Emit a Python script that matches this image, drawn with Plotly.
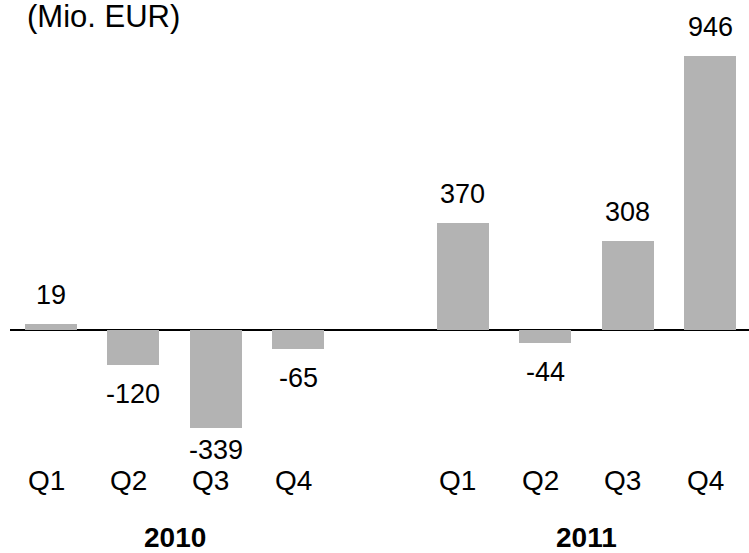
import plotly.graph_objects as go

years = ["2010", "2011"]
quarters = ["Q1", "Q2", "Q3", "Q4"]
values_2010 = [19, -120, -339, -65]
values_2011 = [370, -44, 308, 946]
unit_label = "(Mio. EUR)"

FONT = "Liberation Sans, Arial, sans-serif"
BAR_COLOR = "#b3b3b3"

series = [values_2010, values_2011]
xs, ys, qlabels = [], [], []
for yi, vals in enumerate(series):
    for qi, v in enumerate(vals):
        xs.append(yi * 5 + qi)
        ys.append(v)
        qlabels.append(quarters[qi])

fig = go.Figure()
fig.add_trace(go.Bar(
    x=xs, y=ys, width=0.631,
    marker=dict(color=BAR_COLOR, line=dict(width=0)),
    hoverinfo="skip", showlegend=False,
))

annotations = []
vmin = min(ys)
for x, v in zip(xs, ys):
    if v >= 0:
        shift = 29
    else:
        shift = -22 if v == vmin else -29
    annotations.append(dict(
        x=x, y=v, xref="x", yref="y", text=str(v), showarrow=False,
        yshift=shift, yanchor="middle", xanchor="center",
        font=dict(family=FONT, size=27, color="black"),
    ))

for x, q in zip(xs, qlabels):
    annotations.append(dict(
        x=x, y=-0.0862, xref="x", yref="paper", text=q, showarrow=False,
        xshift=-5, yanchor="middle", xanchor="center",
        font=dict(family=FONT, size=28, color="black"),
    ))

for yi, yr in enumerate(years):
    annotations.append(dict(
        x=yi * 5 + 1.5, y=-0.2254, xref="x", yref="paper", text="<b>" + yr + "</b>",
        showarrow=False, yanchor="middle", xanchor="center",
        font=dict(family=FONT, size=28, color="black"),
    ))

fig.update_layout(
    width=749, height=553,
    margin=dict(l=10, r=0, t=40, b=107, pad=0),
    paper_bgcolor="white", plot_bgcolor="white",
    title=dict(text=unit_label, x=27 / 749, y=1 - 16 / 553, xref="container", yref="container",
               xanchor="left", yanchor="middle",
               font=dict(family=FONT, size=31, color="black")),
    xaxis=dict(range=[-0.4977, 8.473], showticklabels=False, showgrid=False,
               zeroline=False, showline=False, ticks="", fixedrange=True),
    yaxis=dict(range=[-400, 1000], showticklabels=False, showgrid=False,
               zeroline=True, zerolinecolor="black", zerolinewidth=2,
               showline=False, ticks="", fixedrange=True),
    annotations=annotations,
    bargap=0,
)

fig.write_html(
    "out.html",
    config={"displayModeBar": False},
    post_script="document.body.style.margin='0';document.body.style.overflow='hidden';",
)
